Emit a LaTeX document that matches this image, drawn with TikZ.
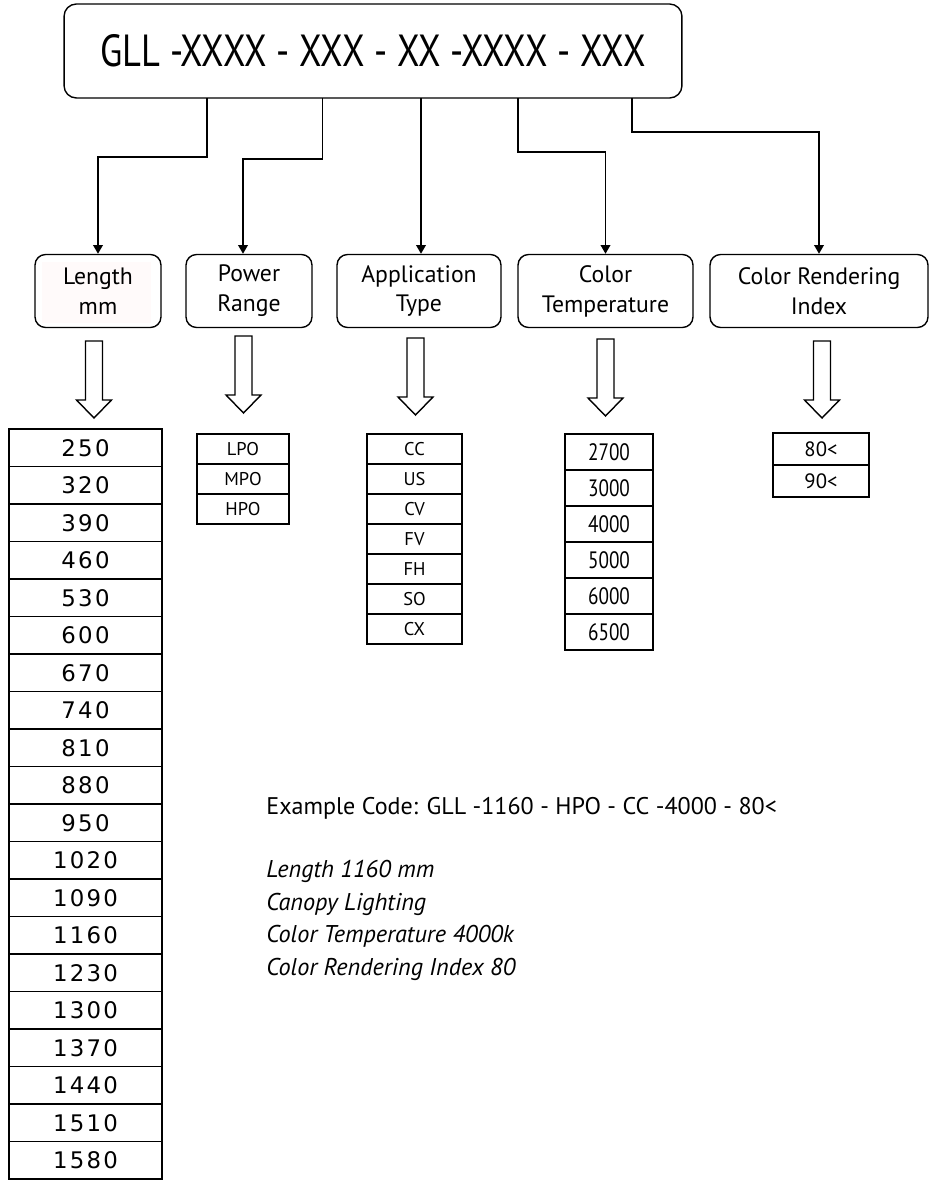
\documentclass[tikz,border=0pt]{standalone}
\usepackage{fontspec}
\setmainfont{PT Sans}
\newfontfamily\narrowfont[FakeStretch=0.81]{PT Sans}
\newfontfamily\widefont[LetterSpace=10]{DejaVu Sans}
\usetikzlibrary{arrows.meta}

\tikzset{
  catbox/.style={draw, line width=0.8pt, rounded corners=6pt, align=center,
    minimum height=1.46cm, inner sep=2pt, font=\fontsize{13.5}{17}\selectfont},
  feed/.style={line width=0.9pt, -{Triangle[length=5pt,width=5.5pt]}},
  hollow/.pic={\draw[line width=0.8pt] (-8.5,0) -- (8.5,0) -- (8.5,59) -- (17.5,59)
    -- (0,77) -- (-17.5,59) -- (-8.5,59) -- cycle;},
  lencell/.style={draw, line width=1.1pt, minimum width=3.06cm, minimum height=0.75cm,
    inner sep=0pt, font=\widefont\fontsize{13}{13}\selectfont},
  smallcell/.style={draw, line width=0.8pt, minimum height=0.6cm, inner sep=0pt,
    font=\fontsize{10.5}{10.5}\selectfont},
  tempcell/.style={draw, line width=1.2pt, minimum width=1.76cm, minimum height=0.72cm,
    inner sep=0pt, font=\narrowfont\fontsize{13.5}{13.5}\selectfont},
  cricell/.style={draw, line width=0.8pt, minimum width=1.92cm, minimum height=0.64cm,
    inner sep=0pt, font=\fontsize{11.8}{11.8}\selectfont},
  note/.style={inner sep=0pt, font=\itshape\fontsize{13.8}{13.8}\selectfont}
}

\begin{document}
\begin{tikzpicture}[x=0.02cm,y=-0.02cm]
\useasboundingbox (0,0) rectangle (930,1182);
% Code box at the top
\node[draw, line width=0.8pt, rounded corners=7pt, minimum width=12.36cm, minimum height=1.88cm,
  font=\narrowfont\fontsize{25.6}{25.6}\selectfont] (code) at (373,51) {GLL -XXXX - XXX - XX -XXXX - XXX};
\foreach \n/\x in {1/207, 2/322.6, 3/421, 4/518, 5/632}
  \coordinate (p\n) at (\x,98);
% Category boxes
\fill[red!2] (42,262) rectangle (151,323);
\node[catbox, minimum width=2.52cm] (len) at (98,291) {Length\\mm};
\node[catbox, minimum width=2.52cm] (pwr) at (249,291) {Power\\Range};
\node[catbox, minimum width=3.28cm] (app) at (419,291) {Application\\Type};
\node[catbox, minimum width=3.5cm] (ct) at (605.5,291) {Color\\Temperature};
\node[catbox, minimum width=4.36cm] (cri) at (819,291) {Color Rendering\\Index};
% Connectors from the code to the boxes
\draw[feed] (p1) -- ++(0,59) -| (len.north);
\draw[feed] (p2) -- ++(0,61) -| ([xshift=-0.12cm]pwr.north);
\draw[feed] (p3) -- (p3 |- app.north);
\draw[feed] (p4) -- ++(0,54) -| (ct.north);
\draw[feed] (p5) -- ++(0,34) -| (cri.north);
% Hollow arrows
\pic at (94,341) {hollow};
\pic at (243.5,336) {hollow};
\pic at (415.5,338) {hollow};
\pic at (605.5,339) {hollow};
\pic at (822,341) {hollow};
% Value tables
\foreach \v [count=\i] in {250,320,390,460,530,600,670,740,810,880,950,1020,1090,1160,1230,1300,1370,1440,1510,1580}
  \node[lencell] (len\i) at (85.5,{429+37.5*(\i-0.5)}) {\v};
\foreach \v [count=\i] in {LPO,MPO,HPO}
  \node[smallcell, minimum width=1.84cm] (pwr\i) at (243,{434+30*(\i-0.5)}) {\v};
\foreach \v [count=\i] in {CC,US,CV,FV,FH,SO,CX}
  \node[smallcell, minimum width=1.9cm] (app\i) at (414.5,{434+30*(\i-0.5)}) {\v};
\foreach \v [count=\i] in {2700,3000,4000,5000,6000,6500}
  \node[tempcell] (ct\i) at (609,{434+36*(\i-0.5)}) {\v};
\foreach \v [count=\i] in {80<,90<}
  \node[cricell] (cri\i) at (821,{433+32*(\i-0.5)}) {\v};
% Example
\node[inner sep=0pt, anchor=base west, font=\fontsize{13.7}{13.7}\selectfont] (example) at (266,814)
  {Example Code: GLL -1160 - HPO - CC -4000 - 80<};
\foreach \t [count=\i] in {Length 1160 mm, Canopy Lighting, Color Temperature 4000k, Color Rendering Index 80}
  \node[note, anchor=base west] (note\i) at (266,{845+32.6*\i}) {\t};
\end{tikzpicture}
\end{document}
